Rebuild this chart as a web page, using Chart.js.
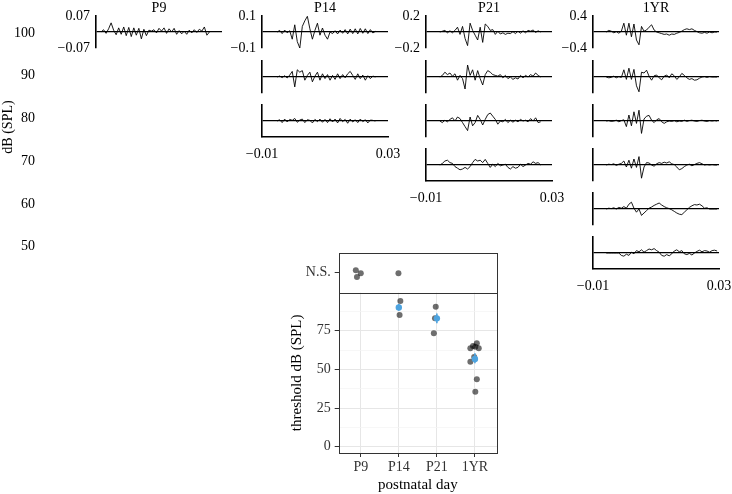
<!DOCTYPE html>
<html><head><meta charset="utf-8">
<script src="https://cdn.jsdelivr.net/npm/chart.js@4"></script>
<style>
body{margin:0;background:#fff;width:732px;height:494px;position:relative;overflow:hidden}
canvas{position:absolute}
</style></head><body>
<script>
// ---- data ----
const days=['P9','P14','P21','1YR'];
const dbLevels=[100,90,80,70,60,50];
const ampLimits=[0.07,0.1,0.2,0.4];
const timeTicks=[-0.01,0.03];
const sampleStep=0.0008;
const traceStart=[-0.0084,-0.0052,-0.0056,-0.0058];

// ABR waveforms (volts), one array per sound level
const p9_100=[0.000,0.010,-0.006,0.014,0.040,0.008,-0.012,0.018,-0.010,0.022,-0.016,0.020,-0.020,0.018,-0.014,0.016,-0.030,0.012,-0.016,0.008,0.004,0.010,-0.004,0.016,0.004,0.018,-0.006,0.014,0.000,0.016,-0.010,0.006,-0.008,0.004,-0.010,0.008,-0.004,0.010,-0.002,0.012,0.004,0.022,-0.014,0.000];
const p14_100=[0.000,0.010,-0.010,0.012,-0.005,0.008,-0.045,0.045,-0.060,-0.100,0.035,0.070,0.098,0.020,-0.045,0.010,0.055,-0.020,0.025,-0.020,-0.045,0.000,-0.010,0.008,-0.012,0.012,-0.008,0.015,-0.012,0.018,-0.010,0.020,-0.012,0.022,-0.008,0.020,-0.010,0.015,-0.006,0.004];
const p14_90=[0.000,0.006,-0.004,0.008,-0.006,0.012,0.035,-0.062,0.045,0.030,0.040,-0.020,0.010,0.030,-0.030,0.005,0.030,-0.020,0.020,-0.010,0.015,-0.020,0.010,-0.015,0.020,-0.010,0.015,-0.005,0.020,0.035,0.010,-0.015,0.020,-0.010,0.012,-0.020,0.008,-0.010,0.006,0.000];
const p14_80=[0.000,0.008,-0.010,0.012,-0.006,0.010,0.004,0.016,-0.008,0.006,0.012,-0.010,0.008,0.004,-0.012,0.010,-0.004,0.012,-0.008,0.010,-0.010,0.014,-0.006,0.012,-0.012,0.016,-0.004,0.010,-0.014,0.012,-0.006,0.008,-0.010,0.012,-0.004,0.008,-0.012,0.006,0.004,0.000];
const p21_100=[0.00,0.01,0.02,-0.01,0.015,-0.01,0.02,0.06,-0.03,0.07,-0.08,-0.17,0.11,0.02,-0.04,-0.10,0.06,-0.13,0.10,0.07,0.02,0.03,-0.03,0.01,-0.025,-0.01,-0.03,-0.015,-0.02,0.005,-0.02,0.01,-0.015,0.015,-0.01,0.02,0.01,0.025,-0.005,0.015,0.00];
const p21_90=[0.00,0.02,0.06,0.03,0.05,0.01,0.04,-0.04,0.02,-0.02,-0.15,0.15,0.02,0.09,-0.04,0.08,-0.02,-0.10,0.03,0.08,0.06,0.03,0.02,0.01,0.03,-0.01,0.02,-0.02,0.00,-0.03,-0.01,-0.025,0.02,-0.01,0.02,0.00,0.03,0.01,0.05,0.02,0.00];
const p21_80=[0.00,-0.02,0.01,-0.01,0.02,0.04,0.00,0.05,0.03,-0.02,-0.07,-0.12,0.05,-0.06,-0.02,0.07,0.02,-0.05,0.02,0.08,0.10,0.06,0.02,-0.04,0.00,-0.01,0.02,-0.02,0.01,-0.015,0.01,-0.01,0.02,0.00,0.01,-0.01,0.03,0.00,0.04,-0.02,-0.01];
const p21_70=[0.00,0.02,0.05,0.06,0.03,0.02,-0.02,-0.04,-0.06,-0.05,-0.03,-0.05,-0.02,0.03,0.07,0.05,0.06,0.03,0.07,0.02,-0.03,0.01,-0.02,0.02,-0.01,0.00,0.01,-0.03,-0.05,-0.02,-0.04,-0.03,0.01,-0.02,0.00,0.02,0.01,0.04,0.02,0.03,0.00];
const yr_100=[0.00,0.04,0.02,-0.02,0.01,-0.03,0.02,0.22,-0.08,0.22,-0.12,0.20,-0.20,-0.32,0.14,0.02,0.05,0.12,0.18,0.05,0.00,-0.02,-0.04,-0.06,-0.05,-0.08,-0.05,-0.06,-0.03,-0.01,0.02,0.06,0.08,0.06,0.08,0.04,0.01,-0.02,-0.03,-0.01,-0.03,0.00,-0.02,0.00,0.00];
const yr_90=[0.00,-0.02,-0.01,0.02,-0.02,0.01,-0.01,0.18,-0.06,0.22,-0.06,0.19,-0.22,-0.37,0.12,0.10,0.17,0.02,-0.08,0.03,0.05,-0.02,-0.07,0.02,0.05,-0.02,0.08,0.03,-0.06,0.00,0.09,0.04,-0.02,-0.06,-0.04,-0.08,-0.07,-0.03,0.00,0.01,-0.01,0.01,0.00,0.00,0.00];
const yr_80=[0.00,0.01,-0.01,0.00,0.02,-0.02,0.01,0.03,-0.14,0.15,-0.12,0.23,-0.06,0.27,-0.31,0.05,0.12,0.14,0.02,-0.04,0.03,0.06,-0.02,-0.06,-0.02,0.00,-0.01,0.01,-0.02,0.00,-0.01,0.02,-0.01,0.01,0.02,0.00,-0.01,0.01,0.02,0.00,-0.01,0.01,0.00,0.01,0.00];
const yr_70=[0.00,0.02,0.01,0.03,-0.01,0.02,0.04,0.10,-0.05,0.12,-0.08,0.15,-0.06,0.21,-0.33,-0.05,0.06,0.05,0.00,-0.03,0.03,0.06,0.04,0.07,0.05,0.08,0.03,0.01,-0.05,-0.12,-0.09,-0.04,0.00,0.02,-0.02,0.01,0.04,0.06,0.03,0.00,0.01,0.00,0.01,0.00,0.00];
const yr_60=[0.00,0.02,0.01,0.03,0.00,0.04,0.02,0.06,0.02,0.12,0.17,0.02,-0.08,0.00,-0.16,-0.10,-0.04,0.02,0.05,0.09,0.12,0.15,0.10,0.06,0.03,0.01,-0.02,-0.06,-0.10,-0.13,-0.14,-0.08,-0.02,0.04,0.08,0.11,0.10,0.12,0.08,0.02,0.03,0.00,0.00,0.00,0.00];
const yr_50=[0.00,0.00,0.00,0.00,0.00,0.00,-0.06,-0.08,-0.03,-0.06,0.02,-0.02,0.06,0.03,0.08,0.02,0.06,0.10,0.08,0.11,0.06,0.02,-0.06,-0.08,-0.04,-0.07,-0.02,0.05,0.08,0.03,0.06,-0.02,-0.04,-0.01,-0.05,0.00,0.04,0.07,0.03,0.06,0.05,0.02,0.06,0.07,0.05];
const waves=[[p9_100],[p14_100,p14_90,p14_80],[p21_100,p21_90,p21_80,p21_70],[yr_100,yr_90,yr_80,yr_70,yr_60,yr_50]];

// threshold panel
const nsX=[0.87,1.00,0.90,1.99];
const nsY=[0.12,-0.03,-0.21,-0.03];
const thrX=[2.04,2.02,2.97,2.95,2.92,3.88,3.95,4.05,4.01,4.10,3.88,3.98,4.05,4.01];
const thrY=[94.2,85.2,90.5,83.0,73.3,63.6,65.2,66.9,64.7,63.6,55.0,58.0,43.6,35.6];
const meanX=[2,3,4];
const meanY=[90.1,83.0,56.8];
const errLo=[87.9,79.8,53.9];
const errHi=[92.3,86.2,60.4];
const thrTicks=[0,12.5,25,37.5,50,62.5,75,87.5];

Chart.defaults.font.family="'Liberation Serif', serif";
Chart.defaults.font.size=14;
Chart.defaults.color='#000';

function mk(left,top,w,h){
  const c=document.createElement('canvas'); c.width=w; c.height=h;
  c.style.left=left+'px'; c.style.top=top+'px';
  document.body.appendChild(c); return c.getContext('2d');
}
const noPlug={legend:{display:false},tooltip:{enabled:false}};
const greyDot='rgba(0,0,0,0.57)', blue='#4DA3DF';

// dB (SPL) level axis
new Chart(mk(0,0,48,272),{
  type:'line',data:{datasets:[]},
  options:{responsive:false,animation:false,layout:{padding:{bottom:18}},plugins:noPlug,
    scales:{
      x:{display:false},
      y:{min:48.29,max:107.72,grid:{display:false},border:{display:false},
        ticks:{padding:3,color:'#000',autoSkip:false},
        afterBuildTicks:s=>{s.ticks=dbLevels.map(v=>({value:v}))},
        title:{display:true,text:'dB (SPL)',color:'#000',padding:0},
        afterFit:s=>{s.width=46;s.paddingTop=0;s.paddingBottom=0}}
    }}
});

// waveform panels
const colX=[95.5,261.7,426.3,593.3];
const rowY=[32.3,76.5,120.7,164.9,209.1,253.3];
waves.forEach((col,ci)=>{
  const A=ampLimits[ci];
  col.forEach((vals,ri)=>{
    const first=ri===0, last=ri===col.length-1&&col.length>1;
    const pts=vals.map((v,i)=>({x:traceStart[ci]+i*sampleStep,y:v}));
    new Chart(mk(colX[ci]-52,rowY[ri]-32,192,76),{
      type:'line',
      data:{datasets:[{data:pts,borderColor:'#000',borderWidth:0.9,pointRadius:0,tension:0}]},
      options:{responsive:false,animation:false,layout:{padding:{right:14}},plugins:noPlug,
        scales:{
          x:{type:'linear',min:-0.01,max:0.03,grid:{display:false},
            border:{display:last,color:'#000',width:1.6},
            ticks:{display:last,padding:1,color:'#000',maxRotation:0,autoSkip:false,
              callback:v=>v<0?'\u2212'+Math.abs(v):String(v)},
            afterBuildTicks:s=>{s.ticks=timeTicks.map(v=>({value:v}))},
            afterFit:s=>{s.height=28;s.paddingLeft=0;s.paddingRight=0}},
          xt:{type:'linear',position:'top',min:-0.01,max:0.03,grid:{display:false},
            border:{display:false},ticks:{display:false},
            title:{display:first,text:days[ci],color:'#000',padding:0},
            afterFit:s=>{s.height=16;s.paddingLeft=0;s.paddingRight=0}},
          y:{min:-A,max:A,border:{color:'#000',width:1.6},
            grid:{drawTicks:false,lineWidth:1.3,color:c=>c.tick&&c.tick.value===0?'#000':'rgba(0,0,0,0)'},
            ticks:{display:first,padding:6,color:'#000',autoSkip:false,
              callback:v=>v>0?String(A):v<0?'\u2212'+A:''},
            afterBuildTicks:s=>{s.ticks=[{value:-A},{value:0},{value:A}]},
            afterFit:s=>{s.width=52;s.paddingTop=0;s.paddingBottom=0}}
        }}
    });
  });
});

// threshold panel
const frame={id:'frame',afterDraw(ch){
  const a=ch.chartArea,ctx=ch.ctx; ctx.save(); ctx.strokeStyle='#333'; ctx.lineWidth=1;
  ctx.strokeRect(Math.round(a.left)+0.5,Math.round(a.top)+0.5,Math.round(a.right-a.left),Math.round(a.bottom-a.top));
  ctx.restore();
}};

new Chart(mk(250,240,260,60),{
  type:'scatter',
  data:{datasets:[{data:nsX.map((x,i)=>({x,y:nsY[i]})),backgroundColor:greyDot,borderWidth:0,pointRadius:3}]},
  options:{responsive:false,animation:false,layout:{padding:{top:12.7,right:13,bottom:7.3}},plugins:noPlug,
    scales:{
      x:{display:false,min:0.42,max:4.58},
      y:{min:-1,max:1,border:{display:false},
        grid:{drawOnChartArea:false,tickLength:4,tickColor:'#333'},
        ticks:{padding:4,color:'#333',callback:()=>'N.S.'},
        afterBuildTicks:s=>{s.ticks=[{value:0}]},
        afterFit:s=>{s.width=88.7;s.paddingTop=0;s.paddingBottom=0}}
    }},
  plugins:[frame]
});

const errPts=[];
meanX.forEach((x,i)=>{errPts.push({x,y:errLo[i]},{x,y:errHi[i]},{x,y:null});});

new Chart(mk(250,280,260,214),{
  type:'scatter',
  data:{datasets:[
    {data:meanX.map((x,i)=>({x,y:meanY[i]})),backgroundColor:blue,borderWidth:0,pointRadius:3.2},
    {data:errPts,showLine:true,spanGaps:false,borderColor:blue,borderWidth:1.6,pointRadius:0},
    {data:thrX.map((x,i)=>({x,y:thrY[i]})),backgroundColor:greyDot,borderWidth:0,pointRadius:3}
  ]},
  options:{responsive:false,animation:false,layout:{padding:{top:12.7,right:13}},plugins:noPlug,
    scales:{
      x:{type:'linear',min:0.42,max:4.58,border:{display:false},
        grid:{color:'#E6E6E6',tickLength:4,tickColor:'#333'},
        ticks:{padding:2,color:'#333',maxRotation:0,autoSkip:false,callback:v=>days[v-1]},
        afterBuildTicks:s=>{s.ticks=[1,2,3,4].map(v=>({value:v}))},
        title:{display:true,text:'postnatal day',color:'#000',font:{size:15},padding:{top:0,bottom:0}},
        afterFit:s=>{s.height=41;s.paddingLeft=0;s.paddingRight=0}},
      y:{min:-4.07,max:99.6,border:{display:false},
        grid:{tickLength:4,
          color:c=>c.tick&&c.tick.value%25===0?'#E6E6E6':'#F3F3F3',
          lineWidth:c=>c.tick&&c.tick.value%25===0?1:0.7,
          tickColor:c=>c.tick&&c.tick.value%25===0?'#333':'rgba(0,0,0,0)'},
        ticks:{padding:4,color:'#333',autoSkip:false,callback:v=>v%25===0?String(v):''},
        afterBuildTicks:s=>{s.ticks=thrTicks.map(v=>({value:v}))},
        title:{display:true,text:'threshold dB (SPL)',color:'#000',font:{size:15},padding:{top:38,bottom:0}},
        afterFit:s=>{s.width=88.7;s.paddingTop=0;s.paddingBottom=0}}
    }},
  plugins:[frame]
});
</script>
</body></html>
